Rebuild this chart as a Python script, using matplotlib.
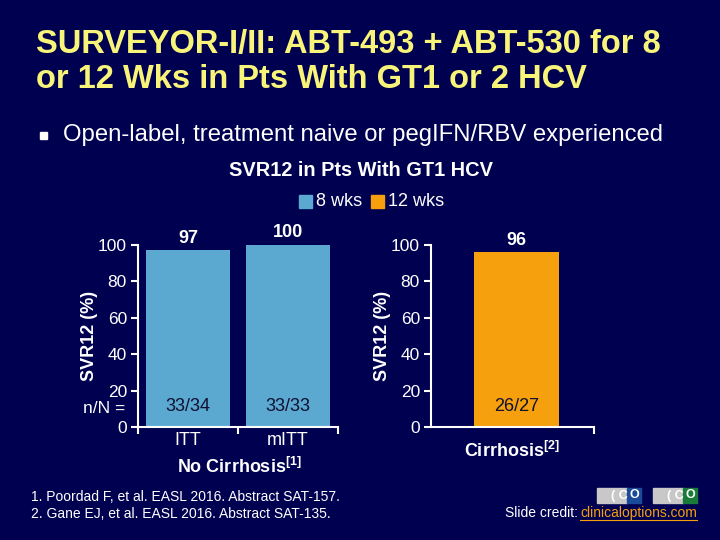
import matplotlib
matplotlib.use("Agg")
import matplotlib.pyplot as plt
from matplotlib.patches import Rectangle

plt.rcParams['font.family'] = ['Liberation Sans', 'DejaVu Sans']
plt.rcParams['mathtext.fontset'] = 'custom'
plt.rcParams['mathtext.rm'] = 'Liberation Sans:bold'
plt.rcParams['mathtext.bf'] = 'Liberation Sans:bold'

BG = '#000050'
BLUE = '#5BA8D0'
ORANGE = '#F5A00C'
WHITE = 'white'
YELLOW = '#F8F47A'
DARK = '#101030'

# data
left_categories = ['ITT', 'mITT']
left_values = [97, 100]
left_nN = ['33/34', '33/33']
right_categories = ['Cirrhosis$^{[2]}$']
right_values = [96]
right_nN = ['26/27']
yticks = [0, 20, 40, 60, 80, 100]
ytick_labels = ['0', '20', '40', '60', '80', '100']

W, H = 720, 540
fig = plt.figure(figsize=(7.2, 5.4), dpi=100, facecolor=BG)

def fx(px):
    return px / W

def fy(py):
    return 1 - py / H

# title
fig.text(fx(36), fy(45), 'SURVEYOR-I/II: ABT-493 + ABT-530 for 8', color=YELLOW,
         fontsize=23.5, fontweight='bold', va='center', ha='left')
fig.text(fx(36), fy(80), 'or 12 Wks in Pts With GT1 or 2 HCV', color=YELLOW,
         fontsize=23.5, fontweight='bold', va='center', ha='left')
fig.patches.append(Rectangle((fx(40), fy(139)), fx(7), 7 / H, color=WHITE, transform=fig.transFigure))
fig.text(fx(63), fy(135), 'Open-label, treatment naive or pegIFN/RBV experienced', color=WHITE,
         fontsize=17.2, va='center', ha='left')
fig.text(fx(361), fy(170), 'SVR12 in Pts With GT1 HCV', color=WHITE, fontsize=14.4,
         fontweight='bold', va='center', ha='center')

# legend
fig.patches.append(Rectangle((fx(299), fy(208)), fx(13), 13 / H, color=BLUE, transform=fig.transFigure))
fig.text(fx(316), fy(201), '8 wks', color=WHITE, fontsize=13, va='center', ha='left')
fig.patches.append(Rectangle((fx(371), fy(208)), fx(13), 13 / H, color=ORANGE, transform=fig.transFigure))
fig.text(fx(388), fy(201), '12 wks', color=WHITE, fontsize=13, va='center', ha='left')

def style_ax(ax):
    ax.set_facecolor(BG)
    for s in ['top', 'right']:
        ax.spines[s].set_visible(False)
    for s in ['left', 'bottom']:
        ax.spines[s].set_color(WHITE)
        ax.spines[s].set_linewidth(1.5)
    ax.set_ylim(0, 100)
    ax.set_yticks(yticks)
    ax.set_yticklabels(ytick_labels)
    ax.tick_params(axis='y', colors=WHITE, labelsize=12.5, length=5, width=1.5, pad=3)
    ax.tick_params(axis='x', colors=WHITE, length=5, width=1.5, direction='out')
    ax.set_ylabel('SVR12 (%)', color=WHITE, fontsize=13, fontweight='bold', labelpad=0)

# left axes
y0, y100 = 427, 245
axL = fig.add_axes([fx(138), fy(y0), fx(338) - fx(138), (y0 - y100) / H])
style_ax(axL)
axL.set_xlim(0, 2)
xs = [0.5, 1.5]
axL.bar(xs, left_values, width=0.84, color=BLUE)
axL.set_xticks([0, 1, 2])
axL.set_xticklabels([])
for x, v, nn, c in zip(xs, left_values, left_nN, left_categories):
    axL.text(x, v + 2, str(v), color=WHITE, fontsize=13, fontweight='bold', ha='center', va='bottom')
    axL.text(x, 11, nn, color=DARK, fontsize=13, ha='center', va='center')
    axL.annotate(c, (x, 0), xytext=(0, -10), textcoords='offset points', color=WHITE,
                 fontsize=13, ha='center', va='center', annotation_clip=False)
axL.annotate('n/N =', (0, 10), xytext=(-9, 0), textcoords='offset points', color=WHITE,
             fontsize=12.5, ha='right', va='center', annotation_clip=False)
fig.text(fx(239), fy(467), 'No Cirrhosis$^{[1]}$', color=WHITE, fontsize=13, fontweight='bold',
         ha='center', va='center')

# right axes
axR = fig.add_axes([fx(431), fy(y0), fx(594) - fx(431), (y0 - y100) / H])
style_ax(axR)
axR.set_xlim(0, 1)
axR.bar([0.525], right_values, width=0.52, color=ORANGE)
axR.set_xticks([1])
axR.set_xticklabels([])
axR.text(0.525, right_values[0] + 2, str(right_values[0]), color=WHITE, fontsize=13,
         fontweight='bold', ha='center', va='bottom')
axR.text(0.525, 11, right_nN[0], color=DARK, fontsize=13, ha='center', va='center')
fig.text(fx(512), fy(451), right_categories[0], color=WHITE, fontsize=13, fontweight='bold',
         ha='center', va='center')

# footnotes
fig.text(fx(31), fy(497), '1. Poordad F, et al. EASL 2016. Abstract SAT-157.', color=WHITE,
         fontsize=10, ha='left', va='center')
fig.text(fx(31), fy(514), '2. Gane EJ, et al. EASL 2016. Abstract SAT-135.', color=WHITE,
         fontsize=10, ha='left', va='center')
fig.text(fx(697), fy(513), 'clinicaloptions.com', color=ORANGE, fontsize=10,
         ha='right', va='center')
fig.text(fx(578), fy(513), 'Slide credit:', color=WHITE, fontsize=10, ha='right', va='center')
fig.lines.append(plt.Line2D([fx(580), fx(697)], [fy(520), fy(520)], color=ORANGE, lw=0.8,
                            transform=fig.transFigure))
# logos
for x0, col in [(597, '#1A4A9A'), (653, '#1A7A3A')]:
    fig.patches.append(Rectangle((fx(x0), fy(503)), fx(30), 15 / H, color='#C8C8C8', transform=fig.transFigure))
    fig.patches.append(Rectangle((fx(x0 + 30), fy(503)), fx(14), 15 / H, color=col, transform=fig.transFigure))
    fig.text(fx(x0 + 22), fy(495.5), '( C', color=WHITE, fontsize=9, fontweight='bold',
             ha='center', va='center')
    fig.text(fx(x0 + 37), fy(495.5), 'O', color=WHITE, fontsize=9, fontweight='bold',
             ha='center', va='center')

fig.savefig('out.png', dpi=100, facecolor=BG)
